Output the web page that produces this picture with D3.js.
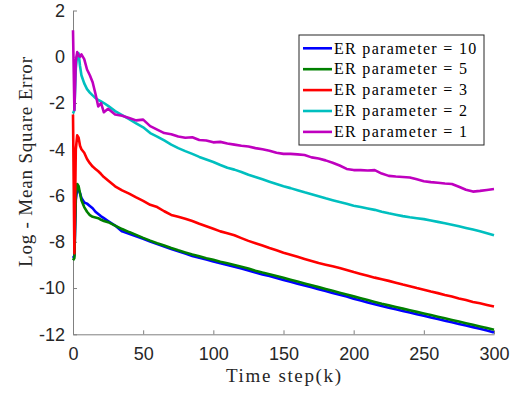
<!DOCTYPE html>
<html>

<head>
    <meta charset="utf-8">
    <title>MSE vs time step</title>
    <script src="https://cdn.jsdelivr.net/npm/d3@7"></script>
    <style>
        body { margin: 0; background: #fff; }
        .serif { font-family: "Liberation Serif", "Times New Roman", serif; }
    </style>
</head>

<body>
    <svg width="527" height="394" id="mainsvg"></svg>
    <script>
        // time steps shared by every series
        const steps = [0, 1, 2, 3, 4, 5, 6, 8, 10, 12, 14, 16, 18, 20, 22, 25,
            30, 35, 40, 45, 50, 55, 60, 65, 70, 75, 80, 85, 90, 95, 100,
            105, 110, 115, 120, 125, 130, 135, 140, 145, 150,
            155, 160, 165, 170, 175, 180, 185, 190, 195, 200,
            205, 210, 215, 220, 225, 230, 235, 240, 245, 250,
            255, 260, 265, 270, 275, 280, 285, 290, 295, 300];

        const er10 = [-8.7, -8.6, -6.2, -5.7, -5.75, -5.9, -6.1, -6.3, -6.35, -6.45, -6.55, -6.7, -6.8, -6.9, -6.98, -7.1,
            -7.3, -7.55, -7.65, -7.76, -7.87, -7.99, -8.1, -8.2, -8.31, -8.41, -8.51, -8.61, -8.69, -8.77, -8.85,
            -8.93, -9.0, -9.08, -9.16, -9.24, -9.33, -9.41, -9.48, -9.57, -9.65,
            -9.73, -9.81, -9.89, -9.97, -10.05, -10.13, -10.21, -10.29, -10.37, -10.46,
            -10.54, -10.62, -10.7, -10.78, -10.85, -10.92, -10.99, -11.06, -11.13, -11.2,
            -11.27, -11.34, -11.41, -11.48, -11.55, -11.62, -11.69, -11.76, -11.84, -11.92];

        const er5 = [-8.8, -8.7, -6.0, -5.5, -5.6, -5.9, -6.2, -6.5, -6.7, -6.85, -6.92, -6.95, -6.98, -7.05, -7.1, -7.15,
            -7.3, -7.45, -7.58, -7.7, -7.83, -7.95, -8.06, -8.16, -8.27, -8.37, -8.46, -8.55, -8.63, -8.71, -8.78,
            -8.86, -8.93, -9.0, -9.08, -9.16, -9.25, -9.33, -9.4, -9.48, -9.56,
            -9.64, -9.72, -9.8, -9.88, -9.96, -10.04, -10.12, -10.2, -10.28, -10.36,
            -10.44, -10.52, -10.6, -10.68, -10.75, -10.82, -10.89, -10.96, -11.03, -11.1,
            -11.17, -11.24, -11.31, -11.38, -11.45, -11.52, -11.59, -11.66, -11.73, -11.8];

        const er3 = [-2.5, -8.5, -4.0, -3.4, -3.5, -3.85, -4.0, -4.15, -4.42, -4.6, -4.75, -4.85, -4.95, -5.07, -5.2, -5.35,
            -5.6, -5.78, -5.92, -6.08, -6.23, -6.4, -6.5, -6.68, -6.84, -6.92, -7.0, -7.1, -7.22, -7.33, -7.44,
            -7.55, -7.63, -7.72, -7.84, -7.96, -8.06, -8.16, -8.27, -8.37, -8.47,
            -8.56, -8.65, -8.74, -8.83, -8.92, -8.99, -9.06, -9.13, -9.22, -9.31,
            -9.39, -9.47, -9.55, -9.62, -9.69, -9.77, -9.85, -9.92, -10.0, -10.07,
            -10.15, -10.22, -10.3, -10.37, -10.45, -10.52, -10.6, -10.66, -10.73, -10.8];

        const er2 = [-2.45, -2.3, -0.5, 0.1, 0.15, -0.4, -0.8, -1.15, -1.4, -1.55, -1.67, -1.78, -1.87, -1.93, -2.0, -2.12,
            -2.35, -2.52, -2.7, -2.88, -3.05, -3.3, -3.45, -3.62, -3.8, -3.95, -4.08, -4.2, -4.33, -4.44, -4.55,
            -4.68, -4.8, -4.88, -4.98, -5.1, -5.2, -5.3, -5.4, -5.5, -5.6,
            -5.68, -5.77, -5.86, -5.94, -6.03, -6.12, -6.2, -6.28, -6.36, -6.44,
            -6.5, -6.56, -6.62, -6.7, -6.77, -6.83, -6.89, -6.94, -6.98, -7.02,
            -7.08, -7.14, -7.2, -7.26, -7.33, -7.4, -7.47, -7.54, -7.63, -7.72];

        const er1 = [1.15, -2.3, -0.2, 0.2, 0.05, 0.0, 0.1, -0.1, -0.55, -0.8, -1.1, -1.6, -2.15, -2.0, -2.4, -2.25,
            -2.5, -2.55, -2.65, -2.75, -2.72, -3.0, -3.15, -3.3, -3.35, -3.45, -3.5, -3.48, -3.6, -3.62, -3.7,
            -3.68, -3.75, -3.8, -3.85, -3.88, -3.95, -4.0, -4.06, -4.15, -4.2,
            -4.2, -4.22, -4.25, -4.35, -4.4, -4.48, -4.58, -4.7, -4.85, -4.9,
            -4.9, -4.92, -4.9, -5.05, -5.15, -5.18, -5.2, -5.22, -5.3, -5.38,
            -5.42, -5.45, -5.48, -5.5, -5.62, -5.75, -5.83, -5.8, -5.76, -5.72];

        const seriesNames = ['ER parameter = 10', 'ER parameter = 5', 'ER parameter = 3', 'ER parameter = 2', 'ER parameter = 1'];
        const seriesValues = [er10, er5, er3, er2, er1];
        const seriesColors = ['#0000ff', '#008000', '#ff0000', '#00bfbf', '#bf00bf'];

        const xTicks = [0, 50, 100, 150, 200, 250, 300];
        const yTicks = [-12, -10, -8, -6, -4, -2, 0, 2];

        const svg = d3.select('#mainsvg');
        const margin = { top: 10.5, right: 33, bottom: 60, left: 73 };
        const width = +svg.attr('width');
        const height = +svg.attr('height');
        const innerWidth = width - margin.left - margin.right;   // 421
        const innerHeight = 334.3 - margin.top;

        const g = svg.append('g')
            .attr('transform', `translate(${margin.left}, ${margin.top})`);

        const xScale = d3.scaleLinear().domain([0, 300]).range([0, innerWidth]);
        const yScale = d3.scaleLinear().domain([-12, 2]).range([innerHeight, 0]);

        // plain hyphen for negatives, like the original figure
        const fmt = d => (d < 0 ? '-' + Math.abs(d) : String(d));

        // axes: only left and bottom, ticks pointing inward
        const xAxis = d3.axisBottom(xScale).tickValues(xTicks).tickFormat(fmt)
            .tickSizeInner(-4).tickSizeOuter(0).tickPadding(12.5);
        const yAxis = d3.axisLeft(yScale).tickValues(yTicks).tickFormat(fmt)
            .tickSizeInner(-4).tickSizeOuter(0).tickPadding(8);

        const styleAxis = sel => {
            sel.attr('font-family', '"Liberation Sans", Arial, sans-serif').attr('font-size', 18);
            sel.selectAll('path.domain').attr('stroke', '#808080').attr('stroke-width', 1);
            sel.selectAll('.tick line').attr('stroke', '#808080');
            sel.selectAll('.tick text').attr('fill', '#262626');
        };

        g.append('g').attr('transform', `translate(0, ${innerHeight})`).call(xAxis).call(styleAxis);
        g.append('g').call(yAxis).call(styleAxis);

        // series lines
        const line = d3.line()
            .x((d, i) => xScale(steps[i]))
            .y(d => yScale(d));

        g.selectAll('.series').data(seriesValues).join('path')
            .attr('class', 'series')
            .attr('d', d => line(d))
            .attr('fill', 'none')
            .attr('stroke', (d, i) => seriesColors[i])
            .attr('stroke-width', 2.6)
            .attr('stroke-linejoin', 'round');

        // axis labels
        svg.append('text')
            .attr('class', 'serif')
            .attr('x', margin.left + innerWidth / 2)
            .attr('y', 381.5)
            .attr('text-anchor', 'middle')
            .attr('font-size', '19px')
            .attr('fill', '#262626')
            .attr('textLength', 115)
            .text('Time step(k)');

        svg.append('text')
            .attr('class', 'serif')
            .attr('transform', 'translate(31.5, 162) rotate(-90)')
            .attr('text-anchor', 'middle')
            .attr('font-size', '19px')
            .attr('fill', '#262626')
            .attr('textLength', 210)
            .text('Log - Mean Square Error');

        // legend
        const lg = svg.append('g').attr('transform', 'translate(299, 35)');
        lg.append('rect')
            .attr('width', 185).attr('height', 110)
            .attr('fill', '#fff').attr('stroke', '#262626').attr('stroke-width', 1);
        lg.selectAll('.legline').data(seriesNames).join('line')
            .attr('class', 'legline')
            .attr('x1', 4).attr('x2', 33)
            .attr('y1', (d, i) => 13.3 + i * 20.9)
            .attr('y2', (d, i) => 13.3 + i * 20.9)
            .attr('stroke', (d, i) => seriesColors[i])
            .attr('stroke-width', 2.6);
        lg.selectAll('.legtext').data(seriesNames).join('text')
            .attr('class', 'legtext serif')
            .attr('x', 35)
            .attr('y', (d, i) => 18.5 + i * 20.9)
            .attr('font-size', '16px')
            .attr('letter-spacing', '1.3px')
            .attr('fill', '#000')
            .text(d => d);
    </script>
</body>

</html>
